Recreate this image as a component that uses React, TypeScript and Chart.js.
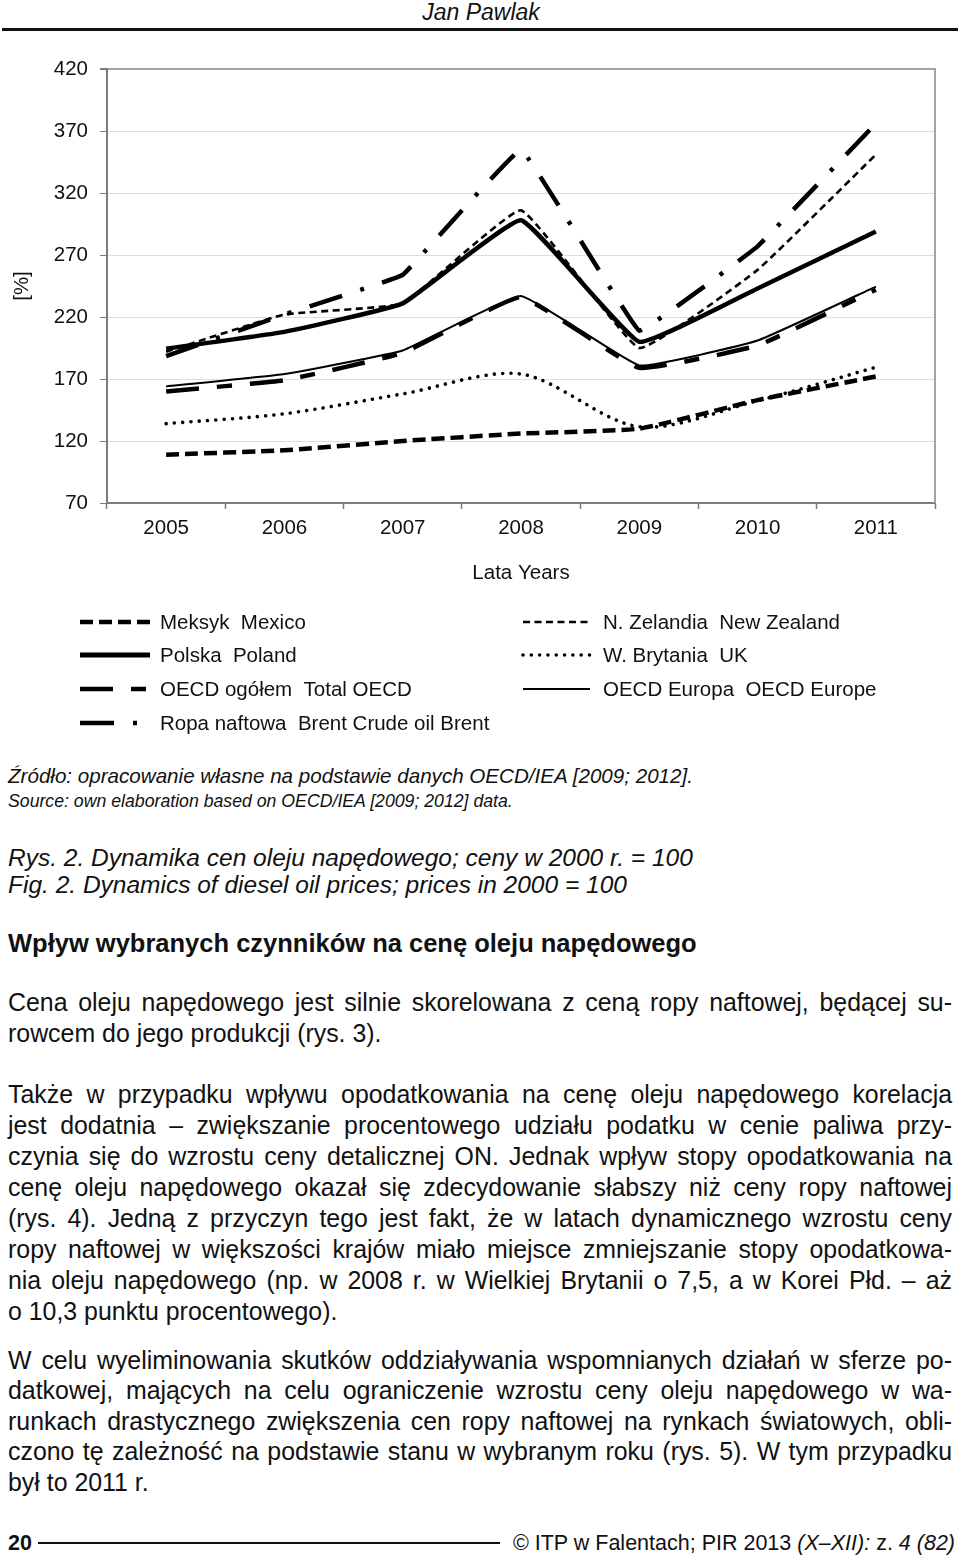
import React, { useEffect, useRef } from 'react';
import { Chart, registerables } from 'chart.js';

Chart.register(...registerables);

// ---------- data ----------
const years = ['2005', '2006', '2007', '2008', '2009', '2010', '2011'];
const yTickValues = [70, 120, 170, 220, 270, 320, 370, 420];

const mexico = [109, 112.5, 120, 126, 130, 153, 172];
const poland = [194.5, 208, 231, 298, 200, 243, 289];
const totalOecd = [160, 169, 191, 236, 179, 197, 242];
const brent = [188.5, 222, 254, 355, 209, 277, 376];
const newZealand = [192, 222, 231, 306, 195, 258, 351];
const uk = [134, 142, 158, 174, 131.5, 152.5, 179.5];
const oecdEurope = [164, 174, 193, 237, 181, 201, 244.5];

const seriesNames = [
  'Meksyk  Mexico',
  'Polska  Poland',
  'OECD ogółem  Total OECD',
  'Ropa naftowa  Brent Crude oil Brent',
  'N. Zelandia  New Zealand',
  'W. Brytania  UK',
  'OECD Europa  OECD Europe',
];

const xTitle = 'Lata Years';
const yTitle = '[%]';

const headerText = 'Jan Pawlak';
const sourceLines = [
  'Źródło: opracowanie własne na podstawie danych OECD/IEA [2009; 2012].',
  'Source: own elaboration based on OECD/IEA [2009; 2012] data.',
];
const captionLines = [
  'Rys. 2. Dynamika cen oleju napędowego; ceny w 2000 r. = 100',
  'Fig. 2. Dynamics of diesel oil prices; prices in 2000 = 100',
];
const headingText = 'Wpływ wybranych czynników na cenę oleju napędowego';
const para1 = [
  'Cena oleju napędowego jest silnie skorelowana z ceną ropy naftowej, będącej su-',
  'rowcem do jego produkcji (rys. 3).',
];
const para2 = [
  'Także w przypadku wpływu opodatkowania na cenę oleju napędowego korelacja',
  'jest dodatnia – zwiększanie procentowego udziału podatku w cenie paliwa przy-',
  'czynia się do wzrostu ceny detalicznej ON. Jednak wpływ stopy opodatkowania na',
  'cenę oleju napędowego okazał się zdecydowanie słabszy niż ceny ropy naftowej',
  '(rys. 4). Jedną z przyczyn tego jest fakt, że w latach dynamicznego wzrostu ceny',
  'ropy naftowej w większości krajów miało miejsce zmniejszanie stopy opodatkowa-',
  'nia oleju napędowego (np. w 2008 r. w Wielkiej Brytanii o 7,5, a w Korei Płd. – aż',
  'o 10,3 punktu procentowego).',
];
const para3 = [
  'W celu wyeliminowania skutków oddziaływania wspomnianych działań w sferze po-',
  'datkowej, mających na celu ograniczenie wzrostu ceny oleju napędowego w wa-',
  'runkach drastycznego zwiększenia cen ropy naftowej na rynkach światowych, obli-',
  'czono tę zależność na podstawie stanu w wybranym roku (rys. 5). W tym przypadku',
  'był to 2011 r.',
];
const footerPage = '20';

const FONT = '"Liberation Sans", Arial, sans-serif';
const CHART_FONT_SIZE = 20.5;

// legend placement inside the canvas (canvas starts at page y = 40)
const legendLayout = [
  { x1: 80, x2: 150, tx: 160, y: 582 },
  { x1: 80, x2: 150, tx: 160, y: 615 },
  { x1: 80, x2: 150, tx: 160, y: 649 },
  { x1: 80, x2: 150, tx: 160, y: 683 },
  { x1: 523, x2: 590, tx: 603, y: 582 },
  { x1: 523, x2: 590, tx: 603, y: 615 },
  { x1: 523, x2: 590, tx: 603, y: 649 },
];

const frameAndLegendPlugin = {
  id: 'frameAndLegend',
  beforeDatasetsDraw(chart: any) {
    const { ctx, chartArea } = chart;
    ctx.save();
    ctx.strokeStyle = '#a3a3a3';
    ctx.lineWidth = 2;
    ctx.beginPath();
    ctx.moveTo(chartArea.right, chartArea.top - 1);
    ctx.lineTo(chartArea.right, chartArea.bottom);
    ctx.stroke();
    ctx.restore();
  },
  afterDraw(chart: any) {
    const { ctx } = chart;
    chart.data.datasets.forEach((ds: any, i: number) => {
      const p = legendLayout[i];
      if (!p) return;
      ctx.save();
      ctx.strokeStyle = ds.borderColor;
      ctx.lineWidth = ds.legendWidth ?? ds.borderWidth;
      ctx.setLineDash(ds.legendDash ?? ds.borderDash ?? []);
      ctx.lineCap = ds.borderCapStyle || 'butt';
      ctx.beginPath();
      ctx.moveTo(p.x1, p.y);
      ctx.lineTo(p.x2, p.y);
      ctx.stroke();
      ctx.setLineDash([]);
      ctx.fillStyle = '#111';
      ctx.font = `${CHART_FONT_SIZE}px ${FONT}`;
      ctx.textBaseline = 'middle';
      ctx.textAlign = 'left';
      ctx.fillText(ds.label, p.tx, p.y + 1);
      ctx.restore();
    });
  },
};

function ChartBlock() {
  const ref = useRef<HTMLCanvasElement | null>(null);
  useEffect(() => {
    if (!ref.current) return;
    const base = { borderColor: '#000', pointRadius: 0, pointHoverRadius: 0, fill: false, borderJoinStyle: 'round' };
    const chart = new Chart(ref.current, {
      type: 'line',
      data: {
        labels: years,
        datasets: [
          { ...base, label: seriesNames[0], data: mexico, borderWidth: 4.5, borderDash: [13, 6], borderCapStyle: 'butt', tension: 0.15 },
          { ...base, label: seriesNames[1], data: poland, borderWidth: 4.5, tension: 0.1, legendWidth: 5 },
          { ...base, label: seriesNames[2], data: totalOecd, borderWidth: 4.5, borderDash: [33, 18, 15, 18], borderCapStyle: 'butt', tension: 0.1 },
          { ...base, label: seriesNames[3], data: brent, borderWidth: 4.5, borderDash: [34, 19, 4, 19], borderCapStyle: 'butt', tension: 0.05 },
          { ...base, label: seriesNames[4], data: newZealand, borderWidth: 2.6, borderDash: [7, 4.5], borderCapStyle: 'butt', tension: 0.1 },
          { ...base, label: seriesNames[5], data: uk, borderWidth: 3.6, borderDash: [0.01, 8.3], borderCapStyle: 'round', tension: 0.3 },
          { ...base, label: seriesNames[6], data: oecdEurope, borderWidth: 2, tension: 0.1 },
        ] as any,
      },
      options: {
        animation: false,
        responsive: false,
        events: [],
        layout: { padding: { left: 0, right: 25, top: 29, bottom: 147 } },
        plugins: { legend: { display: false }, tooltip: { enabled: false } },
        scales: {
          x: {
            type: 'category',
            offset: true,
            afterFit: (s: any) => { s.height = 90; },
            grid: { display: true, offset: true, drawOnChartArea: false, drawTicks: true, tickLength: 6, tickColor: '#7a7a7a', tickWidth: 1.5 },
            border: { display: true, color: '#7a7a7a', width: 2 },
            ticks: { color: '#111', font: { size: CHART_FONT_SIZE, family: FONT }, padding: 7, maxRotation: 0 },
            title: { display: true, text: xTitle, color: '#111', font: { size: CHART_FONT_SIZE, family: FONT }, padding: { top: 0, bottom: 7 } },
          },
          y: {
            type: 'linear',
            min: 70,
            max: 420,
            afterFit: (s: any) => { s.width = 107; },
            afterBuildTicks: (s: any) => { s.ticks = yTickValues.map((v) => ({ value: v })); },
            grid: {
              color: (c: any) => (c.tick && c.tick.value === 420 ? '#a3a3a3' : '#dcdcdc'),
              lineWidth: (c: any) => (c.tick && c.tick.value === 420 ? 2 : 1),
              drawTicks: true,
              tickLength: 7,
              tickColor: '#7a7a7a',
            },
            border: { display: true, color: '#7a7a7a', width: 2 },
            ticks: { color: '#111', font: { size: CHART_FONT_SIZE, family: FONT }, padding: 12, callback: (v: any) => String(v) },
            title: { display: true, text: yTitle, color: '#111', font: { size: CHART_FONT_SIZE, family: FONT }, padding: { top: 10, bottom: 0 } },
          },
        },
      } as any,
      plugins: [frameAndLegendPlugin],
    });
    return () => chart.destroy();
  }, []);
  return (
    <canvas
      ref={ref}
      width={960}
      height={700}
      style={{ position: 'absolute', left: 0, top: 40, width: 960, height: 700, display: 'block' }}
    />
  );
}

const textBase: React.CSSProperties = {
  position: 'absolute',
  fontFamily: FONT,
  color: '#111',
  margin: 0,
};

function TextLine(props: { text: React.ReactNode; center: number; size: number; lh: number; italic?: boolean; bold?: boolean; justify?: boolean; left?: number; width?: number }) {
  const { text, center, size, lh, italic, bold, justify, left = 8, width = 944 } = props;
  return (
    <div
      style={{
        ...textBase,
        left,
        width,
        top: center - lh / 2,
        height: lh,
        lineHeight: `${lh}px`,
        fontSize: size,
        fontStyle: italic ? 'italic' : 'normal',
        fontWeight: bold ? 'bold' : 'normal',
        textAlign: justify ? 'justify' : 'left',
        textAlignLast: justify ? 'justify' : 'left',
        whiteSpace: justify ? 'normal' : 'pre',
      } as React.CSSProperties}
    >
      {text}
    </div>
  );
}

export default function App() {
  const BODY = 24.9;
  return (
    <div style={{ position: 'absolute', left: 0, top: 0, width: 960, height: 1557, overflow: 'hidden', background: '#fff' }}>
      {/* header */}
      <div style={{ ...textBase, left: 1, width: 960, top: 0, height: 24, lineHeight: '24px', fontSize: 23, fontStyle: 'italic', textAlign: 'center' }}>
        {headerText}
      </div>
      <div style={{ position: 'absolute', left: 2, top: 28, width: 956, height: 3, background: '#111' }} />

      <ChartBlock />

      <TextLine text={sourceLines[0]} center={776} size={20.6} lh={24} italic />
      <TextLine text={sourceLines[1]} center={801} size={17.7} lh={22} italic />
      <TextLine text={captionLines[0]} center={857} size={24.5} lh={27} italic />
      <TextLine text={captionLines[1]} center={884} size={24.5} lh={27} italic />

      <TextLine text={headingText} center={943} size={25.5} lh={30} bold />

      {para1.map((t, i) => (
        <TextLine key={'p1' + i} text={t} center={1002 + i * 31} size={BODY} lh={31} justify={i < para1.length - 1} />
      ))}
      {para2.map((t, i) => (
        <TextLine key={'p2' + i} text={t} center={1094 + i * 31} size={BODY} lh={31} justify={i < para2.length - 1} />
      ))}
      {para3.map((t, i) => (
        <TextLine key={'p3' + i} text={t} center={1360 + i * 30.5} size={BODY} lh={31} justify={i < para3.length - 1} />
      ))}

      {/* footer */}
      <div style={{ ...textBase, left: 8, top: 1530, height: 26, lineHeight: '26px', fontSize: 21.5, fontWeight: 'bold' }}>{footerPage}</div>
      <div style={{ position: 'absolute', left: 38, top: 1542, width: 462, height: 2, background: '#111' }} />
      <div style={{ ...textBase, left: 500, width: 455, top: 1530, height: 26, lineHeight: '26px', fontSize: 21.5, textAlign: 'right', whiteSpace: 'pre' }}>
        {'© ITP w Falentach; PIR 2013 '}
        <span style={{ fontStyle: 'italic' }}>{'(X–XII):'}</span>
        {' z. '}
        <span style={{ fontStyle: 'italic' }}>{'4 (82)'}</span>
      </div>
    </div>
  );
}
